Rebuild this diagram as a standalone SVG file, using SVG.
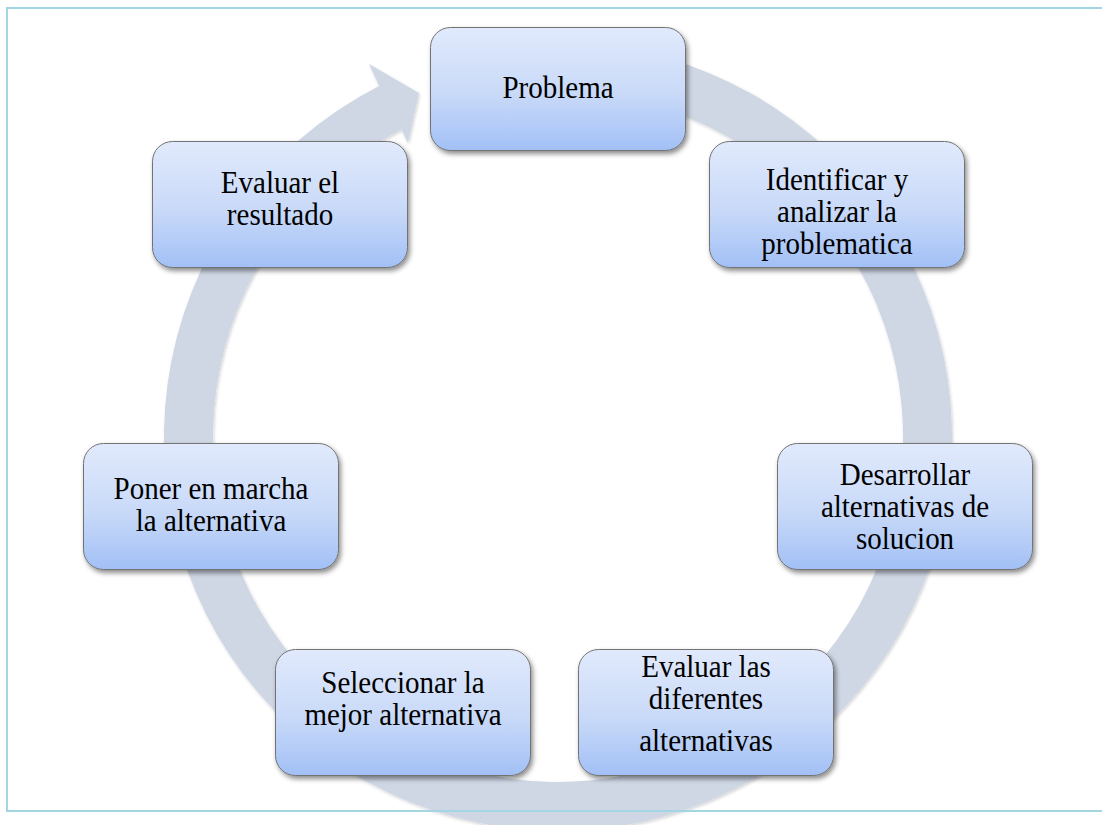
<svg xmlns="http://www.w3.org/2000/svg" width="1102" height="825" viewBox="0 0 1102 825">
  <defs>
    <linearGradient id="boxFill" x1="0" y1="0" x2="0" y2="1">
      <stop offset="0" stop-color="#e1eafc"/>
      <stop offset="0.55" stop-color="#c8d9f8"/>
      <stop offset="1" stop-color="#a2c0f6"/>
    </linearGradient>
    <filter id="boxShadow" x="-10%" y="-10%" width="125%" height="135%">
      <feDropShadow dx="2" dy="3" stdDeviation="2.5" flood-color="#000" flood-opacity="0.45"/>
    </filter>
    <filter id="ringShadow" x="-5%" y="-5%" width="110%" height="110%">
      <feDropShadow dx="1" dy="1.5" stdDeviation="1.5" flood-color="#000" flood-opacity="0.18"/>
    </filter>
  </defs>
  <style>
    .node rect { fill: url(#boxFill); stroke: #737373; stroke-width: 1; filter: url(#boxShadow); }
    .node text { font-family: "Liberation Serif", "Times New Roman", serif; font-size: 29px; fill: #000; text-anchor: middle; }
    .ring { fill: #cfd7e5; filter: url(#ringShadow); }
    .frame { fill: none; stroke: #a3d5e3; stroke-width: 2; }
  </style>

  <rect width="1102" height="825" fill="#fff"/>

  <!-- circular arrow running clockwise behind the steps -->
  <g id="connectors">
    <path class="ring" d="M 571.8 43.2 A 394 394 0 1 1 379.1 85.9 L 369 64 L 419 93 L 408 143 L 401.4 129.6 A 345 345 0 1 0 570 92.2 Z"/>
  </g>

  <!-- page frame -->
  <rect class="frame" x="7" y="8" width="1110" height="803"/>

  <!-- labels are set slightly condensed-tall: each line is scaled 1.08 vertically about its baseline -->
  <g id="node-problema" class="node">
    <rect x="430.5" y="27.5" width="255" height="123" rx="20"/>
    <text transform="translate(558 98) scale(1 1.08)">Problema</text>
  </g>

  <g id="node-identificar" class="node">
    <rect x="709.5" y="141.5" width="255" height="126" rx="20"/>
    <text transform="translate(837 190) scale(1 1.08)">Identificar y</text>
    <text transform="translate(837 222) scale(1 1.08)">analizar la</text>
    <text transform="translate(837 254) scale(1 1.08)">problematica</text>
  </g>

  <g id="node-desarrollar" class="node">
    <rect x="777.5" y="443.5" width="255" height="126" rx="20"/>
    <text transform="translate(905 485) scale(1 1.08)">Desarrollar</text>
    <text transform="translate(905 517) scale(1 1.08)">alternativas de</text>
    <text transform="translate(905 549) scale(1 1.08)">solucion</text>
  </g>

  <g id="node-evaluar-alternativas" class="node">
    <rect x="578.5" y="649.5" width="255" height="126" rx="20"/>
    <text transform="translate(706 677) scale(1 1.08)">Evaluar las</text>
    <text transform="translate(706 709) scale(1 1.08)">diferentes</text>
    <text transform="translate(706 751) scale(1 1.08)">alternativas</text>
  </g>

  <g id="node-seleccionar" class="node">
    <rect x="275.5" y="649.5" width="255" height="126" rx="20"/>
    <text transform="translate(403 693) scale(1 1.08)">Seleccionar la</text>
    <text transform="translate(403 725) scale(1 1.08)">mejor alternativa</text>
  </g>

  <g id="node-poner" class="node">
    <rect x="83.5" y="443.5" width="255" height="126" rx="20"/>
    <text transform="translate(211 499) scale(1 1.08)">Poner en marcha</text>
    <text transform="translate(211 531) scale(1 1.08)">la alternativa</text>
  </g>

  <g id="node-evaluar-resultado" class="node">
    <rect x="152.5" y="141.5" width="255" height="126" rx="20"/>
    <text transform="translate(280 193) scale(1 1.08)">Evaluar el</text>
    <text transform="translate(280 225) scale(1 1.08)">resultado</text>
  </g>
</svg>
